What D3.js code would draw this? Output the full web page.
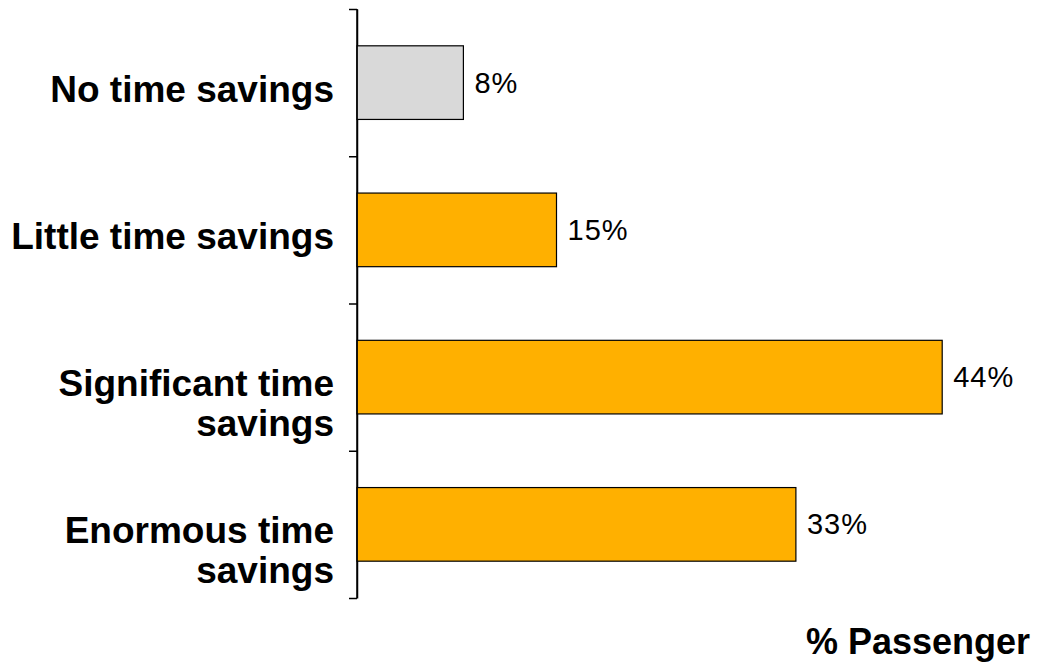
<!DOCTYPE html>
<html>
<head>
<meta charset="utf-8">
<script src="https://cdn.jsdelivr.net/npm/d3@7"></script>
<style>
  html, body { margin: 0; padding: 0; background: #fff; }
  svg { display: block; }
  text { font-family: Arial, "Liberation Sans", Helvetica, sans-serif; fill: #000; }
</style>
</head>
<body>
<svg id="chart" width="1041" height="662"></svg>
<script>
// Survey: perceived time savings, share of passengers
const categories = [
  ["No time savings"],
  ["Little time savings"],
  ["Significant time", "savings"],
  ["Enormous time", "savings"]
];
const values = [8, 15, 44, 33];
const barColors = ["#D9D9D9", "#FFB000", "#FFB000", "#FFB000"];
const axisTitle = "% Passenger";

const svg = d3.select("#chart");
const axisX = 357, plotTop = 9, plotBottom = 598;

const y = d3.scaleBand()
  .domain(d3.range(values.length))
  .range([plotTop, plotBottom])
  .paddingInner(0.5)
  .paddingOuter(0.25);

const x = d3.scaleLinear().domain([0, 100]).range([axisX, axisX + 1330]);

// Axis with ticks on category boundaries
const boundary = d3.scaleLinear().domain([0, values.length]).range([plotTop, plotBottom]);
const axisG = svg.append("g")
  .attr("transform", `translate(${axisX},0)`)
  .call(d3.axisLeft(boundary).tickValues(d3.range(values.length + 1)).tickFormat("").tickSize(8).tickSizeOuter(0));
axisG.selectAll("path, line").attr("stroke", "#000").attr("stroke-width", 1.5);

// Bars
svg.append("g").selectAll("rect")
  .data(values)
  .join("rect")
  .attr("x", x(0))
  .attr("y", (d, i) => y(i))
  .attr("width", d => x(d) - x(0))
  .attr("height", y.bandwidth())
  .attr("fill", (d, i) => barColors[i])
  .attr("stroke", "#000")
  .attr("stroke-width", 1.2);

// Redraw axis line over bar edges
svg.append("line")
  .attr("x1", axisX).attr("x2", axisX)
  .attr("y1", plotTop).attr("y2", plotBottom)
  .attr("stroke", "#000").attr("stroke-width", 1.5);

// Value labels
svg.append("g").selectAll("text")
  .data(values)
  .join("text")
  .attr("x", d => x(d) + 11)
  .attr("y", (d, i) => y(i) + y.bandwidth() / 2 + 10)
  .attr("font-size", 29)
  .attr("letter-spacing", 1)
  .text(d => d + "%");

// Category labels
const catG = svg.append("g");
categories.forEach((lines, i) => {
  const cy = y(i) + y.bandwidth() / 2;
  const t = catG.append("text")
    .attr("text-anchor", "end")
    .attr("font-size", 37)
    .attr("font-weight", "bold");
  lines.forEach((ln, j) => {
    t.append("tspan")
      .attr("x", 334)
      .attr("y", cy + 19 + j * 40)
      .text(ln);
  });
});

// Axis title
svg.append("text")
  .attr("x", 1030)
  .attr("y", 654)
  .attr("text-anchor", "end")
  .attr("font-size", 36)
  .attr("font-weight", "bold")
  .text(axisTitle);
</script>
</body>
</html>
